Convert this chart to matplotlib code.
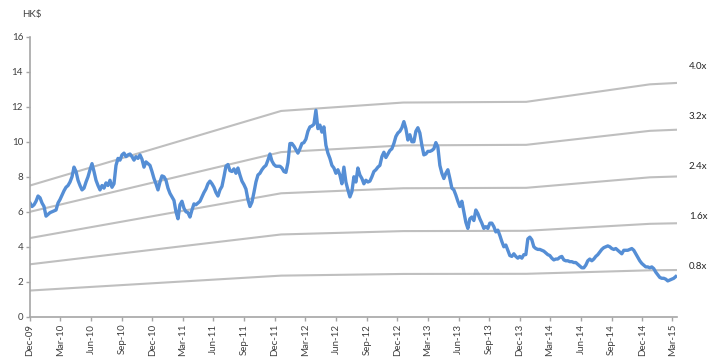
import numpy as np
import pandas as pd
import matplotlib
matplotlib.use("Agg")
import matplotlib.pyplot as plt
import matplotlib.dates as mdates

plt.rcParams['font.family'] = ['Lato', 'DejaVu Sans']

# DATA
# share price (HK$), evenly spaced readings from start to end date
PRICE_START = '2009-12-01'
PRICE_END = '2015-03-11'
prices = [
    6.5, 6.3, 6.4, 6.6, 6.9, 6.8, 6.5, 6.3, 5.75, 5.85, 5.95, 6.0, 6.05, 6.1, 6.5, 6.7,
    6.95, 7.2, 7.4, 7.5, 7.7, 8.0, 8.55, 8.3, 7.8, 7.5, 7.25, 7.35, 7.7, 8.0, 8.4, 8.75,
    8.3, 7.8, 7.5, 7.25, 7.5, 7.35, 7.65, 7.5, 7.8, 7.4, 7.6, 8.65, 9.05, 8.95, 9.25, 9.35,
    9.15, 9.25, 9.3, 9.15, 8.95, 9.15, 9.05, 9.25, 9.0, 8.55, 8.85, 8.75, 8.65, 8.3, 7.9, 7.6,
    7.25, 7.7, 8.05, 8.0, 7.8, 7.35, 7.05, 6.85, 6.65, 6.0, 5.6, 6.4, 6.6, 6.2, 6.0, 5.95,
    5.7, 6.1, 6.45, 6.4, 6.5, 6.6, 6.85, 7.1, 7.3, 7.6, 7.75, 7.6, 7.4, 7.1, 6.9, 7.25,
    7.45, 8.0, 8.6, 8.7, 8.35, 8.3, 8.45, 8.2, 8.5, 8.1, 7.75, 7.55, 7.3, 6.7, 6.3, 6.55,
    7.1, 7.7, 8.1, 8.2, 8.4, 8.55, 8.65, 8.95, 9.3, 8.9, 8.7, 8.6, 8.6, 8.6, 8.5, 8.3,
    8.25, 8.8, 9.9, 9.9, 9.75, 9.55, 9.35, 9.6, 9.9, 9.95, 10.15, 10.6, 10.85, 10.9, 11.0, 11.8,
    10.75, 10.95, 10.55, 10.85, 9.8, 9.35, 9.05, 8.65, 8.5, 8.2, 8.4, 8.1, 7.6, 8.55, 7.7, 7.25,
    6.85, 7.15, 8.0, 7.7, 8.5, 8.1, 7.9, 7.6, 7.8, 7.7, 7.75, 8.0, 8.3, 8.4, 8.55, 8.65,
    9.15, 9.4, 9.1, 9.3, 9.5, 9.6, 9.9, 10.3, 10.5, 10.6, 10.8, 11.15, 10.75, 10.1, 10.4, 10.0,
    10.0, 10.6, 10.8, 10.5, 9.8, 9.25, 9.3, 9.45, 9.45, 9.5, 9.6, 9.95, 9.7, 8.65, 8.2, 7.9,
    8.2, 8.4, 7.9, 7.35, 7.25, 6.95, 6.6, 6.3, 6.6, 6.0, 5.4, 5.05, 5.6, 5.7, 5.5, 6.1,
    5.9, 5.6, 5.35, 5.05, 5.15, 5.05, 5.35, 5.35, 5.15, 4.85, 4.95, 4.65, 4.3, 4.0, 4.1, 3.8,
    3.5, 3.45, 3.6, 3.45, 3.35, 3.45, 3.35, 3.55, 3.55, 4.45, 4.55, 4.4, 4.0, 3.9, 3.85, 3.85,
    3.8, 3.75, 3.65, 3.55, 3.5, 3.35, 3.25, 3.3, 3.3, 3.4, 3.45, 3.25, 3.2, 3.2, 3.15, 3.15,
    3.1, 3.1, 3.0, 2.9, 2.8, 2.8, 2.95, 3.2, 3.3, 3.2, 3.3, 3.45, 3.55, 3.7, 3.85, 3.95,
    4.0, 4.05, 4.0, 3.9, 3.85, 3.9, 3.8, 3.7, 3.6, 3.8, 3.8, 3.8, 3.85, 3.9, 3.8, 3.6,
    3.4, 3.2, 3.05, 2.95, 2.85, 2.85, 2.8, 2.85, 2.75, 2.55, 2.4, 2.25, 2.2, 2.2, 2.15, 2.05,
    2.1, 2.15, 2.2, 2.3,
]

# book value per share used for the P/B bands
bv_dates = ['2009-12-01', '2011-12-20', '2012-12-18', '2013-12-20', '2014-12-24', '2015-03-15']
bv_values = [1.875, 2.94, 3.06, 3.07, 3.32, 3.34]
multiples = [0.8, 1.6, 2.4, 3.2, 4.0]

# PLOT
price_dates = pd.date_range(PRICE_START, PRICE_END, periods=len(prices))
bv_dates = pd.to_datetime(bv_dates)
bv_values = np.array(bv_values)

fig = plt.figure(figsize=(7.15, 3.6), dpi=100)
ax = fig.add_axes([0.042, 0.12, 0.905, 0.778])

for m in multiples:
    band = bv_values * m
    ax.plot(bv_dates, band, color='#BFBFBF', lw=1.5, zorder=1)
    ax.annotate(f"{m:.1f}x", xy=(1.0, band[-1] * 1.07), xycoords=('axes fraction', 'data'),
                xytext=(15, 0), textcoords='offset points', ha='center', va='center',
                fontsize=7, color='#262626', annotation_clip=False)

ax.plot(price_dates, prices, color='#558ED5', lw=2.4, zorder=2)

ax.set_ylim(0, 16)
ax.set_yticks(range(0, 17, 2))
ax.set_xlim(pd.Timestamp('2009-12-01'), pd.Timestamp('2015-03-15'))
ax.set_xticks(pd.date_range('2009-12-01', '2015-03-01', freq='3MS'))
ax.xaxis.set_major_formatter(mdates.DateFormatter('%b-%y'))
plt.setp(ax.get_xticklabels(), rotation=90)

for side in ['top', 'right']:
    ax.spines[side].set_visible(False)
for side in ['left', 'bottom']:
    ax.spines[side].set_color('#A6A6A6')
    ax.spines[side].set_linewidth(1.2)
ax.tick_params(axis='both', colors='#A6A6A6', labelcolor='#404040', labelsize=7,
               length=3, width=1, direction='out', pad=2)

fig.text(0.045, 0.96, "HK$", ha='center', va='center', fontsize=7, color='#404040')

fig.savefig('out.png', dpi=100)
